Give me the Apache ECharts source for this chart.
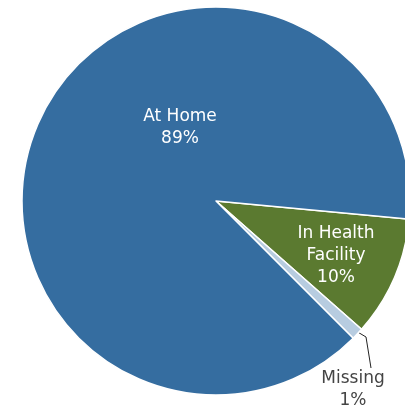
<!DOCTYPE html>
<html>
<head>
<meta charset="utf-8">
<script src="https://cdn.jsdelivr.net/npm/echarts@6/dist/echarts.min.js"></script>
<style>
html,body{margin:0;padding:0;background:#fff;}
#chart{width:405px;height:410px;}
</style>
</head>
<body>
<div id="chart"></div>
<script>
// Data (clockwise from the top edge of the green slice)
var categories = ['In Health Facility', 'Missing', 'At Home'];
var labelTexts = ['In Health\nFacility\n10%', 'Missing\n1%', 'At Home\n89%'];
var values = [10, 1, 89];
var colors = ['#5b7a30', '#b7cce0', '#356da0'];

var labelPos = [[336, 256], [353, 390], [180, 128]];

var chart = echarts.init(document.getElementById('chart'), null, {renderer: 'canvas'});
var data = categories.map(function (c, i) {
  var isMissing = c === 'Missing';
  return {
    name: c,
    value: values[i],
    itemStyle: {color: colors[i]},
    label: {
      show: true,
      position: isMissing ? 'outside' : 'inside',
      formatter: labelTexts[i],
      color: isMissing ? '#444444' : '#ffffff',
      fontFamily: 'DejaVu Sans',
      fontSize: 17,
      lineHeight: 22,
      align: 'center'
    },
    labelLine: {
      show: isMissing,
      length: 10,
      length2: 10,
      lineStyle: {color: '#222', width: 1}
    }
  };
});

chart.setOption({
  animation: false,
  series: [{
    type: 'pie',
    center: [216, 201],
    radius: [0, 194],
    startAngle: -5.4,
    clockwise: true,
    avoidLabelOverlap: false,
    itemStyle: {borderColor: '#ffffff', borderWidth: 1.5},
    emphasis: {disabled: true},
    data: data,
    labelLayout: function (params) {
      var p = labelPos[params.dataIndex];
      var out = {x: p[0], y: p[1], align: 'center', verticalAlign: 'middle'};
      if (params.dataIndex === 1) {
        out.labelLinePoints = [[356, 331], [366, 337], [371, 368]];
      }
      return out;
    }
  }]
});
</script>
</body>
</html>
